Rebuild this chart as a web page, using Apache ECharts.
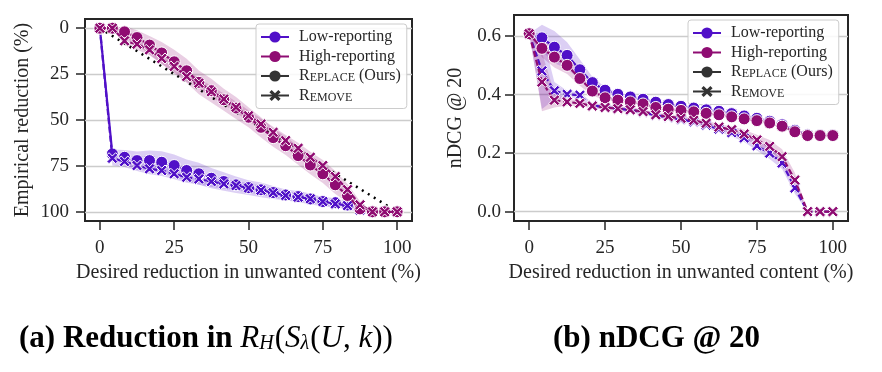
<!DOCTYPE html>
<html><head><meta charset="utf-8">
<script src="https://cdn.jsdelivr.net/npm/echarts@6/dist/echarts.min.js"></script>
<style>html,body{margin:0;padding:0;background:#fff}#c{width:882px;height:372px}</style>
</head><body><div id="c"></div>
<script>
// Desired reduction in unwanted content (%)
const xs = [0, 4.2, 8.3, 12.5, 16.7, 20.8, 25, 29.2, 33.3, 37.5, 41.7, 45.8, 50, 54.2, 58.3, 62.5, 66.7, 70.8, 75, 79.2, 83.3, 87.5, 91.7, 95.8, 100];
const xTicks = [0, 25, 50, 75, 100];
const leftYTicks = [0, 25, 50, 75, 100];
const rightYTicks = [0, 0.2, 0.4, 0.6];

// (a) Empirical reduction (%)
const aLowReplace  = [0, 68.5, 70.3, 72.1, 72.1, 73, 74.8, 77.5, 79.3, 81.7, 83.5, 85.3, 86.8, 88, 89.5, 90.8, 91.7, 93, 94.4, 95, 96.3, 98.5, 100, 100, 100];
const aLowRemove   = [0, 70.8, 72.6, 74.8, 76.6, 77.5, 79.3, 81.2, 82.1, 83.5, 84.8, 85.7, 87, 88.2, 89.6, 91.1, 92, 92.9, 94.4, 95.7, 96.6, 99, 100, 100, 100];
const aHighReplace = [0, 0, 2.0, 5.1, 9.2, 13.5, 18.3, 23.2, 29.5, 34, 39, 43.5, 48.5, 54, 59.6, 64, 69.4, 74.5, 79.3, 85.3, 91.1, 98.4, 100, 100, 100];
const aHighRemove  = [0, 0, 6.9, 8.7, 11.8, 16.5, 20.8, 26.3, 29.9, 34.6, 38.6, 43.1, 47.7, 52.2, 56.7, 61.2, 65.4, 70.3, 74.8, 80.8, 87.9, 96.2, 100, 100, 100];
// confidence half-widths (a)
const aLowReplaceCI  = [0, 2.5, 4, 5, 5.5, 6, 6, 6, 6, 5.5, 5, 4.5, 4, 4, 3.5, 3, 3, 3, 2.5, 2.5, 2, 1.5, 0, 0, 0];
const aLowRemoveCI   = [0, 4, 3, 3, 3, 3, 3, 3, 3, 3, 2.5, 2.5, 2.5, 2.5, 2.5, 2.5, 2, 2, 2, 2, 2, 1.5, 0, 0, 0];
const aHighReplaceCI = [0, 0, 3, 4, 5, 6, 6.5, 6.5, 6.5, 6.5, 6, 6, 5.5, 5.5, 5, 5, 5, 5, 5, 5, 4, 2, 0, 0, 0];
const aHighRemoveCI  = [0, 0, 2.5, 3, 3, 3, 3, 3, 3, 3, 3, 3, 3, 3, 3, 3, 3, 3, 3, 3, 3, 2, 0, 0, 0];
// ideal line y = x
const idealX = [0, 100];
const idealY = [0, 100];

// (b) nDCG @ 20
const bLowReplace  = [0.608, 0.594, 0.562, 0.534, 0.485, 0.441, 0.415, 0.401, 0.392, 0.384, 0.374, 0.366, 0.360, 0.354, 0.348, 0.343, 0.335, 0.327, 0.319, 0.309, 0.297, 0.278, 0.263, 0.262, 0.262];
const bLowRemove   = [0.608, 0.481, 0.413, 0.401, 0.398, 0.363, 0.357, 0.352, 0.347, 0.340, 0.329, 0.322, 0.315, 0.307, 0.296, 0.282, 0.270, 0.252, 0.225, 0.200, 0.166, 0.081, 0, 0, 0];
const bHighReplace = [0.608, 0.558, 0.528, 0.500, 0.455, 0.412, 0.389, 0.381, 0.375, 0.368, 0.356, 0.350, 0.346, 0.341, 0.336, 0.331, 0.324, 0.317, 0.311, 0.303, 0.292, 0.273, 0.260, 0.260, 0.260];
const bHighRemove  = [0.608, 0.443, 0.381, 0.375, 0.370, 0.361, 0.356, 0.352, 0.348, 0.342, 0.331, 0.325, 0.319, 0.312, 0.302, 0.289, 0.280, 0.265, 0.245, 0.223, 0.188, 0.108, 0, 0, 0];
const bLowReplaceCI  = [0, 0.045, 0.055, 0.045, 0.035, 0.02, 0.01, 0.006, 0.005, 0.005, 0.005, 0.005, 0.005, 0.005, 0.005, 0.005, 0.005, 0.005, 0.005, 0.005, 0.005, 0.005, 0.004, 0.004, 0.004];
const bLowRemoveCI   = [0, 0.13, 0.03, 0.012, 0.01, 0.008, 0.008, 0.008, 0.008, 0.008, 0.008, 0.008, 0.008, 0.008, 0.01, 0.01, 0.012, 0.014, 0.016, 0.02, 0.02, 0.02, 0, 0, 0];
const bHighReplaceCI = [0, 0.03, 0.035, 0.03, 0.025, 0.015, 0.008, 0.006, 0.005, 0.005, 0.005, 0.005, 0.005, 0.005, 0.005, 0.005, 0.005, 0.005, 0.005, 0.005, 0.005, 0.005, 0.004, 0.004, 0.004];
const bHighRemoveCI  = [0, 0.1, 0.025, 0.012, 0.01, 0.008, 0.008, 0.008, 0.008, 0.008, 0.008, 0.008, 0.008, 0.008, 0.01, 0.01, 0.012, 0.015, 0.018, 0.022, 0.025, 0.025, 0, 0, 0];

const LOW = '#5010c8', HIGH = '#8f0c72', INK = '#262626';
const LOW_BAND = 'rgba(80,16,200,0.2)', HIGH_BAND = 'rgba(143,12,114,0.2)';
const SERIF = '"Liberation Serif", "DejaVu Serif", serif';
const XSYM = 'path://M0,2 L2,0 L5,3 L8,0 L10,2 L7,5 L10,8 L8,10 L5,7 L2,10 L0,8 L3,5 Z';

function band(id, mean, hw, fill, gi) {
  return {
    type: 'custom', name: id, xAxisIndex: gi, yAxisIndex: gi, silent: true, z: 1, clip: true,
    data: xs.map((x, i) => [x, mean[i]]),
    encode: {x: 0, y: 1},
    renderItem: function (params, api) {
      if (params.dataIndex !== 0) return null;
      const pts = [];
      for (let i = 0; i < xs.length; i++) pts.push(api.coord([xs[i], mean[i] + hw[i]]));
      for (let i = xs.length - 1; i >= 0; i--) pts.push(api.coord([xs[i], mean[i] - hw[i]]));
      return {type: 'polygon', shape: {points: pts}, style: {fill: fill, stroke: null}};
    }
  };
}
function line(id, vals, color, gi, isRemove, z) {
  return {
    type: 'line', name: id, xAxisIndex: gi, yAxisIndex: gi, silent: true, z: z,
    data: xs.map((x, i) => [x, vals[i]]),
    symbol: isRemove ? XSYM : 'circle', symbolSize: isRemove ? 11 : 12,
    itemStyle: {color: color, borderColor: '#fff', borderWidth: 1},
    lineStyle: {color: color, width: 2.2, type: isRemove ? [6, 3] : 'solid'}
  };
}
function legendSeries(name, color, symbol) {
  return {type: 'line', name: name, xAxisIndex: 0, yAxisIndex: 0, data: [],
    symbol: symbol, symbolSize: symbol === 'none' ? 0 : 9,
    itemStyle: {color: color}, lineStyle: {color: color, width: 2.5}};
}
function xAxisCfg(gi) {
  return {type: 'value', gridIndex: gi, min: -5, max: 105,
    axisLine: {show: false, onZero: false},
    axisTick: {show: true, customValues: xTicks, length: 9, lineStyle: {color: INK, width: 1.5}},
    axisLabel: {customValues: xTicks, fontFamily: SERIF, fontSize: 19, color: INK, margin: 18},
    splitLine: {show: false},
    name: 'Desired reduction in unwanted content (%)', nameLocation: 'middle', nameGap: 42,
    nameTextStyle: {fontFamily: SERIF, fontSize: 20, color: INK}};
}
const legendCommon = {
  orient: 'vertical', itemWidth: 28, itemHeight: 14, itemGap: 3.5, selectedMode: false,
  data: ['Low-reporting', 'High-reporting', 'Replace', 'Remove'],
  backgroundColor: 'rgba(255,255,255,0.85)', borderColor: '#cccccc', borderWidth: 1, borderRadius: 3,
  padding: [5, 6, 5, 4],
  formatter: n => n === 'Replace' ? '{c|R}{s|EPLACE}{c| (Ours)}' : n === 'Remove' ? '{c|R}{s|EMOVE}' : '{c|' + n + '}',
  textStyle: {fontFamily: SERIF, fontSize: 16, color: INK, padding: [0, 0, 0, 5],
    rich: {c: {fontFamily: SERIF, fontSize: 16, color: INK, verticalAlign: 'bottom', lineHeight: 16},
           s: {fontFamily: SERIF, fontSize: 12, color: INK, verticalAlign: 'bottom', lineHeight: 16}}}
};
const capRich = {
  b: {fontFamily: SERIF, fontWeight: 'bold', fontSize: 31, color: '#000', verticalAlign: 'bottom', lineHeight: 34},
  m: {fontFamily: SERIF, fontWeight: 'normal', fontStyle: 'italic', fontSize: 31, color: '#000', verticalAlign: 'bottom', lineHeight: 34},
  p: {fontFamily: SERIF, fontWeight: 'normal', fontSize: 31, color: '#000', verticalAlign: 'bottom', lineHeight: 34},
  s: {fontFamily: SERIF, fontWeight: 'normal', fontStyle: 'italic', fontSize: 20, color: '#000', verticalAlign: 'bottom', lineHeight: 27, padding: [0, 1, 0, 0]}
};

const option = {
  animation: false,
  backgroundColor: '#fff',
  title: [
    {text: '{b|(a) Reduction in }{m|R}{s|H}{p|(}{m|S}{s|λ}{p|(}{m|U}{p|, }{m|k}{p|))}', left: 14, top: 315,
     textStyle: {rich: capRich}},
    {text: '{b|(b) nDCG @ 20}', left: 548, top: 315, textStyle: {rich: capRich}}
  ],
  grid: [
    {left: 85, top: 19, width: 327, height: 202, show: true, borderColor: INK, borderWidth: 2, backgroundColor: 'transparent'},
    {left: 514, top: 15, width: 334, height: 206, show: true, borderColor: INK, borderWidth: 2, backgroundColor: 'transparent'}
  ],
  xAxis: [xAxisCfg(0), xAxisCfg(1)],
  yAxis: [
    {type: 'value', gridIndex: 0, inverse: true, min: -5, max: 105,
     axisLine: {show: false, onZero: false},
     axisTick: {show: true, customValues: leftYTicks, length: 9, lineStyle: {color: INK, width: 1.5}},
     axisLabel: {customValues: leftYTicks, fontFamily: SERIF, fontSize: 19, color: INK, margin: 16},
     splitLine: {show: true, lineStyle: {color: '#cccccc', width: 1.3}},
     name: 'Empirical reduction (%)', nameLocation: 'middle', nameGap: 52,
     nameTextStyle: {fontFamily: SERIF, fontSize: 20, color: INK}},
    {type: 'value', gridIndex: 1, min: -0.032, max: 0.672,
     axisLine: {show: false, onZero: false},
     axisTick: {show: true, customValues: rightYTicks, length: 9, lineStyle: {color: INK, width: 1.5}},
     axisLabel: {customValues: rightYTicks, formatter: v => v.toFixed(1), fontFamily: SERIF, fontSize: 19, color: INK, margin: 13},
     splitLine: {show: true, lineStyle: {color: '#cccccc', width: 1.3}},
     name: 'nDCG @ 20', nameLocation: 'middle', nameGap: 48,
     nameTextStyle: {fontFamily: SERIF, fontSize: 20, color: INK}}
  ],
  legend: [
    Object.assign({left: 256, top: 24}, legendCommon),
    Object.assign({left: 688, top: 20}, legendCommon)
  ],
  series: [].concat(
    [band('aLR', aLowReplace, aLowReplaceCI, LOW_BAND, 0),
     band('aLM', aLowRemove, aLowRemoveCI, LOW_BAND, 0),
     band('aHR', aHighReplace, aHighReplaceCI, HIGH_BAND, 0),
     band('aHM', aHighRemove, aHighRemoveCI, HIGH_BAND, 0),
     band('bLR', bLowReplace, bLowReplaceCI, LOW_BAND, 1),
     band('bLM', bLowRemove, bLowRemoveCI, LOW_BAND, 1),
     band('bHR', bHighReplace, bHighReplaceCI, HIGH_BAND, 1),
     band('bHM', bHighRemove, bHighRemoveCI, HIGH_BAND, 1)],
    [{type: 'line', name: 'ideal', xAxisIndex: 0, yAxisIndex: 0, silent: true, symbol: 'none', z: 3,
      data: idealX.map((x, i) => [x, idealY[i]]),
      lineStyle: {color: '#000', width: 2.5, type: [2, 5], cap: 'butt'}}],
    [line('aLowReplace', aLowReplace, LOW, 0, false, 4),
     line('aLowRemove', aLowRemove, LOW, 0, true, 5),
     line('aHighReplace', aHighReplace, HIGH, 0, false, 6),
     line('aHighRemove', aHighRemove, HIGH, 0, true, 7),
     line('bLowReplace', bLowReplace, LOW, 1, false, 4),
     line('bLowRemove', bLowRemove, LOW, 1, true, 5),
     line('bHighReplace', bHighReplace, HIGH, 1, false, 6),
     line('bHighRemove', bHighRemove, HIGH, 1, true, 7)],
    [legendSeries('Low-reporting', LOW, 'none'),
     legendSeries('High-reporting', HIGH, 'none'),
     legendSeries('Replace', '#333333', 'circle'),
     legendSeries('Remove', '#333333', XSYM)]
  )
};
echarts.init(document.getElementById('c'), null, {renderer: 'canvas'}).setOption(option);
</script></body></html>
